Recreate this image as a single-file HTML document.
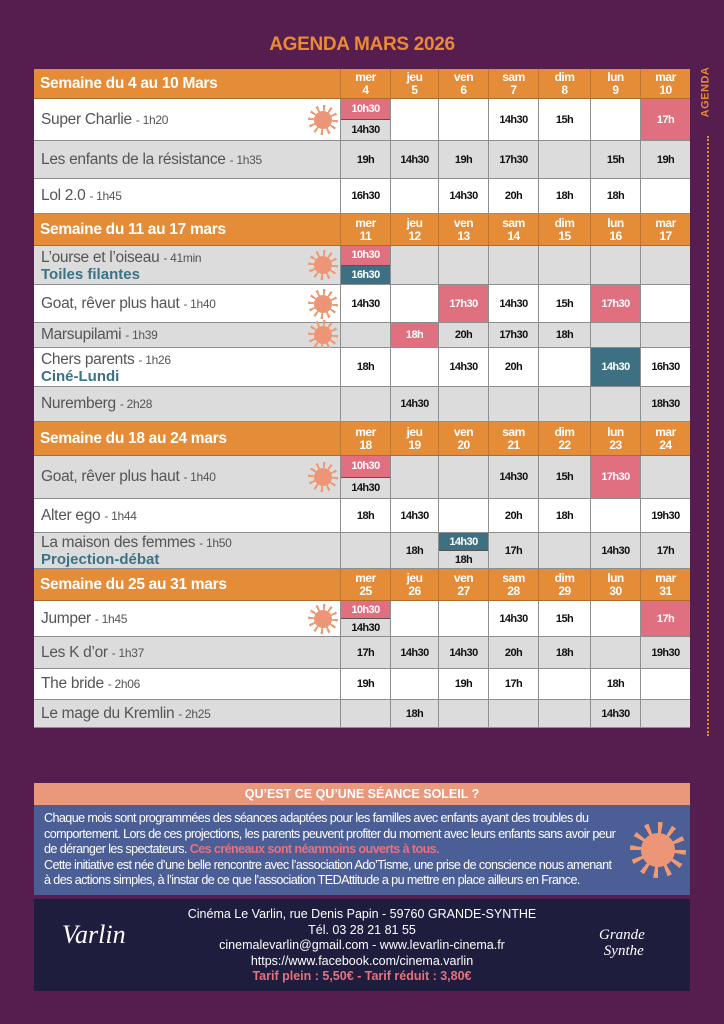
<!DOCTYPE html>
<html><head><meta charset="utf-8"><style>
*{margin:0;padding:0;box-sizing:border-box}
body{width:724px;height:1024px;background:#561d4f;position:relative;overflow:hidden;font-family:"Liberation Sans",sans-serif}
.t{position:absolute;left:0;width:724px;top:34px;text-align:center;color:#ea8a34;font-weight:bold;font-size:19px;letter-spacing:-0.3px}
.r{position:absolute;left:34px;width:656px;display:grid;grid-template-columns:306px 50px 48px 50px 50px 52px 50px 50px;border-bottom:1px solid #8e8e8e}
.w{background:#fff}.g{background:#dcdcdc}
.n{position:relative;padding-left:7px;display:flex;flex-direction:column;justify-content:center;color:#555;font-size:15.5px;letter-spacing:-0.3px;white-space:nowrap}
.n small{font-size:12px}
.n b{color:#3d7186;font-size:15px;line-height:15px;letter-spacing:0}
.n .l{line-height:17px}
.c{border-left:1px solid #8e8e8e;display:flex;align-items:center;justify-content:center;font-weight:bold;font-size:11px;letter-spacing:-0.6px;color:#111;flex-direction:column}
.r.h{background:#e48c37;border-bottom:1px solid #b06a2a}
.r.h .n{font-weight:bold;font-size:15.5px;padding-left:6px;color:#fff;align-items:flex-start;letter-spacing:-0.3px}
.r.h .c{font-weight:bold;font-size:12px;line-height:13px;text-align:center;border-left:1px solid #c07530;letter-spacing:-0.5px;color:#fff}
.p{background:#e06f7f;color:#fff!important}.q{background:#3d7083;color:#fff!important}
.s{padding:0;align-items:stretch}
.s div{flex:1;display:flex;align-items:center;justify-content:center}
.s div:first-child{border-bottom:1px solid #555}
.sun{position:absolute;right:2px;top:50%;width:30px;height:30px;margin-top:-15px;border-radius:50%;background:repeating-conic-gradient(#ee9a73 0 10deg,transparent 10deg 30deg);}
.sun:after{content:"";position:absolute;left:20%;top:20%;width:60%;height:60%;border-radius:50%;background:#ed9677}
.side{position:absolute;left:700px;top:66px;width:16px;height:56px;}
.side span{position:absolute;left:-20px;top:20px;transform:rotate(-90deg);color:#e8892f;font-weight:bold;font-size:11px;letter-spacing:0.5px}
.dots{position:absolute;left:707px;top:136px;height:600px;border-left:2px dotted #e8892f}
.box1{position:absolute;left:34px;top:783px;width:656px;height:22px;background:#e9987c;color:#fff;font-weight:bold;font-size:12.5px;text-align:center;line-height:22px}
.box2{position:absolute;left:34px;top:805px;width:656px;height:90px;background:#4b5f96;color:#fff;font-size:12.6px;line-height:15.5px;padding:6px 50px 0 10px;letter-spacing:-0.6px;white-space:nowrap}
.box2 em{font-style:normal;color:#e8707e;font-weight:bold}
.foot{position:absolute;left:34px;top:899px;width:656px;height:92px;background:#1e1d3d;color:#fff;text-align:center;font-size:12.5px;line-height:15.5px;padding-top:8px}
.foot em{font-style:normal;color:#e8707e;font-weight:bold}
</style></head><body>
<div class="t">AGENDA MARS 2026</div>
<div class="side"><span>AGENDA</span></div>
<div class="dots"></div>

<div class="r h" style="top:69px;height:30px"><div class="n">Semaine du 4 au 10 Mars</div><div class="c">mer<br>4</div><div class="c">jeu<br>5</div><div class="c">ven<br>6</div><div class="c">sam<br>7</div><div class="c">dim<br>8</div><div class="c">lun<br>9</div><div class="c">mar<br>10</div></div>
<div class="r w" style="top:99px;height:42px"><div class="n"><span>Super Charlie <small>- 1h20</small></span><i class="sun"></i></div><div class="c s"><div class="p">10h30</div><div class="g">14h30</div></div><div class="c"></div><div class="c"></div><div class="c">14h30</div><div class="c">15h</div><div class="c"></div><div class="c p">17h</div></div>
<div class="r g" style="top:141px;height:38px"><div class="n"><span>Les enfants de la résistance <small>- 1h35</small></span></div><div class="c">19h</div><div class="c">14h30</div><div class="c">19h</div><div class="c">17h30</div><div class="c"></div><div class="c">15h</div><div class="c">19h</div></div>
<div class="r w" style="top:179px;height:35px"><div class="n"><span>Lol 2.0 <small>- 1h45</small></span></div><div class="c">16h30</div><div class="c"></div><div class="c">14h30</div><div class="c">20h</div><div class="c">18h</div><div class="c">18h</div><div class="c"></div></div>

<div class="r h" style="top:214px;height:32px"><div class="n">Semaine du 11 au 17 mars</div><div class="c">mer<br>11</div><div class="c">jeu<br>12</div><div class="c">ven<br>13</div><div class="c">sam<br>14</div><div class="c">dim<br>15</div><div class="c">lun<br>16</div><div class="c">mar<br>17</div></div>
<div class="r g" style="top:246px;height:39px"><div class="n"><span class="l">L’ourse et l’oiseau <small>- 41min</small></span><b>Toiles filantes</b><i class="sun"></i></div><div class="c s"><div class="p">10h30</div><div class="q">16h30</div></div><div class="c"></div><div class="c"></div><div class="c"></div><div class="c"></div><div class="c"></div><div class="c"></div></div>
<div class="r w" style="top:285px;height:38px"><div class="n"><span>Goat, rêver plus haut <small>- 1h40</small></span><i class="sun"></i></div><div class="c">14h30</div><div class="c"></div><div class="c p">17h30</div><div class="c">14h30</div><div class="c">15h</div><div class="c p">17h30</div><div class="c"></div></div>
<div class="r g" style="top:323px;height:25px"><div class="n"><span>Marsupilami <small>- 1h39</small></span><i class="sun"></i></div><div class="c"></div><div class="c p">18h</div><div class="c">20h</div><div class="c">17h30</div><div class="c">18h</div><div class="c"></div><div class="c"></div></div>
<div class="r w" style="top:348px;height:39px"><div class="n"><span class="l">Chers parents <small>- 1h26</small></span><b>Ciné-Lundi</b></div><div class="c">18h</div><div class="c"></div><div class="c">14h30</div><div class="c">20h</div><div class="c"></div><div class="c q">14h30</div><div class="c">16h30</div></div>
<div class="r g" style="top:387px;height:35px"><div class="n"><span>Nuremberg <small>- 2h28</small></span></div><div class="c"></div><div class="c">14h30</div><div class="c"></div><div class="c"></div><div class="c"></div><div class="c"></div><div class="c">18h30</div></div>

<div class="r h" style="top:422px;height:34px"><div class="n">Semaine du 18 au 24 mars</div><div class="c">mer<br>18</div><div class="c">jeu<br>19</div><div class="c">ven<br>20</div><div class="c">sam<br>21</div><div class="c">dim<br>22</div><div class="c">lun<br>23</div><div class="c">mar<br>24</div></div>
<div class="r g" style="top:456px;height:43px"><div class="n"><span>Goat, rêver plus haut <small>- 1h40</small></span><i class="sun"></i></div><div class="c s"><div class="p">10h30</div><div class="g">14h30</div></div><div class="c"></div><div class="c"></div><div class="c">14h30</div><div class="c">15h</div><div class="c p">17h30</div><div class="c"></div></div>
<div class="r w" style="top:499px;height:34px"><div class="n"><span>Alter ego <small>- 1h44</small></span></div><div class="c">18h</div><div class="c">14h30</div><div class="c"></div><div class="c">20h</div><div class="c">18h</div><div class="c"></div><div class="c">19h30</div></div>
<div class="r g" style="top:533px;height:36px"><div class="n"><span class="l">La maison des femmes <small>- 1h50</small></span><b>Projection-débat</b></div><div class="c"></div><div class="c">18h</div><div class="c s"><div class="q">14h30</div><div>18h</div></div><div class="c">17h</div><div class="c"></div><div class="c">14h30</div><div class="c">17h</div></div>

<div class="r h" style="top:569px;height:32px"><div class="n">Semaine du 25 au 31 mars</div><div class="c">mer<br>25</div><div class="c">jeu<br>26</div><div class="c">ven<br>27</div><div class="c">sam<br>28</div><div class="c">dim<br>29</div><div class="c">lun<br>30</div><div class="c">mar<br>31</div></div>
<div class="r w" style="top:601px;height:36px"><div class="n"><span>Jumper <small>- 1h45</small></span><i class="sun"></i></div><div class="c s"><div class="p">10h30</div><div class="g">14h30</div></div><div class="c"></div><div class="c"></div><div class="c">14h30</div><div class="c">15h</div><div class="c"></div><div class="c p">17h</div></div>
<div class="r g" style="top:637px;height:32px"><div class="n"><span>Les K d’or <small>- 1h37</small></span></div><div class="c">17h</div><div class="c">14h30</div><div class="c">14h30</div><div class="c">20h</div><div class="c">18h</div><div class="c"></div><div class="c">19h30</div></div>
<div class="r w" style="top:669px;height:31px"><div class="n"><span>The bride <small>- 2h06</small></span></div><div class="c">19h</div><div class="c"></div><div class="c">19h</div><div class="c">17h</div><div class="c"></div><div class="c">18h</div><div class="c"></div></div>
<div class="r g" style="top:700px;height:28px"><div class="n"><span>Le mage du Kremlin <small>- 2h25</small></span></div><div class="c"></div><div class="c">18h</div><div class="c"></div><div class="c"></div><div class="c"></div><div class="c">14h30</div><div class="c"></div></div>

<div class="box1">QU’EST CE QU’UNE SÉANCE SOLEIL ?</div>
<div class="box2">Chaque mois sont programmées des séances adaptées pour les familles avec enfants ayant des troubles du<br>comportement. Lors de ces projections, les parents peuvent profiter du moment avec leurs enfants sans avoir peur<br>de déranger les spectateurs. <em>Ces créneaux sont néanmoins ouverts à tous.</em><br>Cette initiative est née d’une belle rencontre avec l’association Ado’Tisme, une prise de conscience nous amenant<br>à des actions simples, à l’instar de ce que l’association TEDAttitude a pu mettre en place ailleurs en France.
<i class="sun" style="right:4px;width:56px;height:56px;margin-top:-28px;top:50%"></i></div>
<div class="foot">Cinéma Le Varlin, rue Denis Papin - 59760 GRANDE-SYNTHE<br>Tél. 03 28 21 81 55<br>cinemalevarlin@gmail.com - www.levarlin-cinema.fr<br>https://www.facebook.com/cinema.varlin<br><em>Tarif plein : 5,50€ - Tarif réduit : 3,80€</em>
<div style="position:absolute;left:28px;top:28px;font-family:'Liberation Serif',serif;font-style:italic;font-size:26px">Varlin</div>
<div style="position:absolute;left:565px;top:28px;font-family:'Liberation Serif',serif;font-style:italic;font-size:15px;line-height:16px">Grande<br>&nbsp;Synthe</div>
</div>
</body></html>
